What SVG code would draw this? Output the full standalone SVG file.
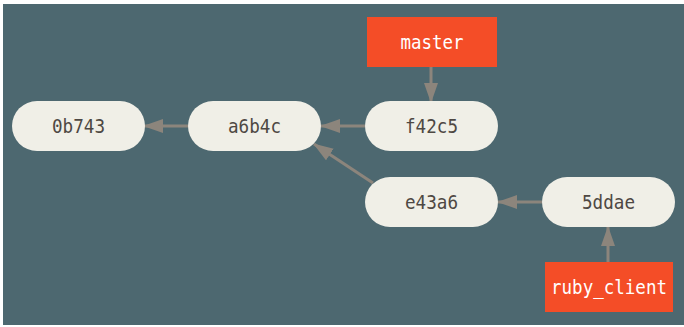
<svg xmlns="http://www.w3.org/2000/svg" width="684" height="327" viewBox="0 0 684 327">
<style>
.commit rect{fill:#f0efe7}
.branch rect{fill:#f44d27}
text{font-family:"DejaVu Sans Mono","Liberation Mono",monospace;font-size:19px;text-anchor:middle;dominant-baseline:central}
.commit text{fill:#4e4843}
.branch text{fill:#ffffff}
.edge{stroke:#8c857c;stroke-width:3;fill:none;marker-end:url(#ah)}
</style>
<defs>
<marker id="ah" viewBox="0 0 20 14" refX="19" refY="7" markerWidth="20" markerHeight="14" markerUnits="userSpaceOnUse" orient="auto">
<path d="M0,0 L20,7 L0,14 Z" fill="#8c857c"/>
</marker>
</defs>
<rect x="3" y="4" width="681" height="321" fill="#4d6870"/>
<g id="connectors">
<line class="edge" x1="188" y1="126" x2="144" y2="126"/>
<line class="edge" x1="365" y1="126" x2="321" y2="126"/>
<line class="edge" x1="373" y1="183" x2="314" y2="144"/>
<line class="edge" x1="542" y1="202" x2="498" y2="202"/>
<line class="edge" x1="431" y1="67" x2="431" y2="102"/>
<line class="edge" x1="608" y1="262" x2="608" y2="227"/>
</g>
<g id="n0b743" class="commit"><rect x="12" y="101" width="133" height="50" rx="25"/><text x="78.5" y="126" textLength="53" lengthAdjust="spacingAndGlyphs">0b743</text></g>
<g id="na6b4c" class="commit"><rect x="188" y="101" width="133" height="50" rx="25"/><text x="254.5" y="126" textLength="53" lengthAdjust="spacingAndGlyphs">a6b4c</text></g>
<g id="nf42c5" class="commit"><rect x="365" y="101" width="133" height="50" rx="25"/><text x="431.5" y="126" textLength="53" lengthAdjust="spacingAndGlyphs">f42c5</text></g>
<g id="ne43a6" class="commit"><rect x="365" y="177" width="133" height="50" rx="25"/><text x="431.5" y="202" textLength="53" lengthAdjust="spacingAndGlyphs">e43a6</text></g>
<g id="n5ddae" class="commit"><rect x="542" y="177" width="133" height="50" rx="25"/><text x="608.5" y="202" textLength="53" lengthAdjust="spacingAndGlyphs">5ddae</text></g>
<g id="master" class="branch"><rect x="367" y="17" width="130" height="50"/><text x="432" y="42" textLength="63" lengthAdjust="spacingAndGlyphs">master</text></g>
<g id="ruby_client" class="branch"><rect x="545" y="262" width="128" height="50"/><text x="609" y="287" textLength="116" lengthAdjust="spacingAndGlyphs">ruby_client</text></g>
</svg>
